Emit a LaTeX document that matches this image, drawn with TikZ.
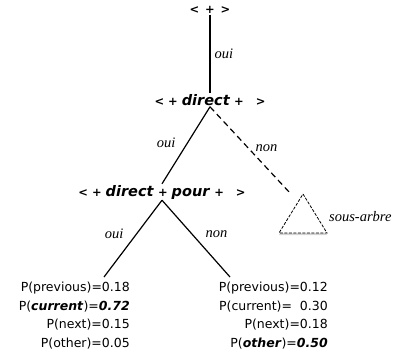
\documentclass[tikz,border=0pt]{standalone}
\usepackage{fontspec}
\setmainfont{DejaVu Sans}
\newfontfamily\lblfont{Liberation Serif}
\usetikzlibrary{shadows, positioning}
\newcommand{\hi}[1]{\textbf{\textit{#1}}}
\newcommand{\word}[1]{{\fontsize{14.5}{16}\selectfont\hi{#1}}}
\tikzset{
  knot/.style={font=\fontsize{11.5}{13}\selectfont\bfseries, inner sep=1pt},
  lbl/.style={font=\fontsize{14.5}{16}\selectfont\lblfont\itshape, inner sep=1pt},
  probs/.style={font=\fontsize{12.5}{18.5}\selectfont, align=right, anchor=north east, inner sep=0pt},
  branch/.style={line width=1.2pt},
}
\begin{document}
\begin{tikzpicture}[x=1pt, y=-1pt]
\useasboundingbox (0, 0) rectangle (402, 356);
\node [knot] (root) at (210, 10) {< \,+\, >};
\node [knot] (n1) at (210, 100) {< + \word{direct} + \ \ >};
\node [knot] (n2) at (162, 192) {< + \word{direct} + \word{pour} + \ \ >};
\coordinate (sub) at (303, 194);
\coordinate (subin) at (290, 193);
\coordinate (lf) at (104, 277);
\coordinate (rt) at (230, 277);
\draw [branch] (root) -- node [lbl, right=3pt] {oui} (n1);
\draw [branch] (n1.south) -- node [lbl, left=9pt, yshift=3pt] {oui} (n2.north);
\draw [branch, dash pattern=on 6pt off 4pt] (n1.south) -- node [lbl, above right=0pt and 4pt, yshift=-3pt] {non} (subin);
\draw [line width=0.8pt, dash pattern=on 3pt off 1.5pt, fill=white, drop shadow={shadow xshift=0pt, shadow yshift=-2pt, opacity=0.35}] (sub) -- ++(24, 39) -- ++(-48, 0) -- cycle;
\node [lbl, anchor=west] (subl) at (328, 217) {sous-arbre};
\draw [branch] (n2.south) -- node [lbl, left=8pt, yshift=5pt] {oui} (lf);
\draw [branch] (n2.south) -- node [lbl, right=8pt, yshift=4pt] {non} (rt);
\node [probs] (pl) at (130, 282) {P(previous)=0.18\\ P(\hi{current})=\hi{0.72}\\ P(next)=0.15\\ P(other)=0.05};
\node [probs] (pr) at (328, 282) {P(previous)=0.12\\ P(current)=\ \ 0.30\\ P(next)=0.18\\ P(\hi{other})=\hi{0.50}};
\end{tikzpicture}
\end{document}
